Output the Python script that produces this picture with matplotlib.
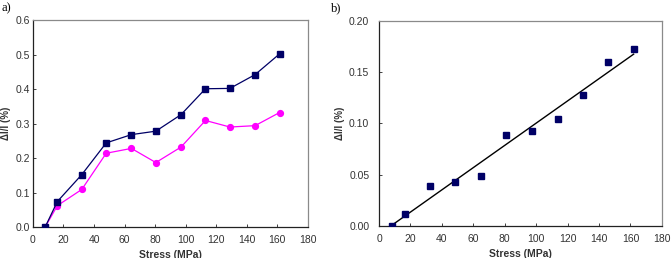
import numpy as np
import matplotlib.pyplot as plt

# panel a
stress_a = [8, 16, 32, 48, 64.5, 80.5, 97, 113, 129, 145.5, 161.5]
strain_sq = [0.0, 0.074, 0.152, 0.244, 0.268, 0.278, 0.326, 0.401, 0.402, 0.442, 0.502]
strain_circ = [0.0, 0.062, 0.109, 0.214, 0.228, 0.187, 0.232, 0.309, 0.290, 0.294, 0.332]

# panel b
stress_b = [8.5, 16.5, 32.5, 48.5, 65, 81, 97.5, 114, 130, 146, 162]
strain_b = [0.0, 0.0115, 0.0393, 0.0429, 0.0484, 0.089, 0.0922, 0.1045, 0.128, 0.160, 0.1725]

xticks = [0, 20, 40, 60, 80, 100, 120, 140, 160, 180]

plt.rcParams["font.family"] = ["Liberation Sans", "DejaVu Sans"]

NAVY = "#000066"
MAGENTA = "#ff00ff"
FRAME = "#8a8a8a"
TXT = "#333333"


def style_axes(ax, ypad):
    for s in ax.spines.values():
        s.set_color(FRAME)
        s.set_linewidth(0.9)
    ax.spines["bottom"].set_color("#222222")
    ax.spines["left"].set_color("#222222")
    ax.tick_params(direction="in", length=2.5, width=0.6, labelsize=7.5,
                   colors="#222222", labelcolor=TXT)
    ax.tick_params(axis="x", pad=6)
    ax.tick_params(axis="y", pad=ypad)
    ax.set_xlim(0, 180)
    ax.set_xticks(xticks)
    ax.set_xlabel("Stress (MPa)", fontsize=7.5, fontweight="bold", color=TXT, labelpad=3)
    ax.set_ylabel("\u0394l/l (%)", fontsize=7, fontweight="bold", color=TXT, labelpad=3)


fig = plt.figure(figsize=(6.72, 2.58), dpi=100)

ax1 = fig.add_axes([0.049, 0.120, 0.409, 0.802])
ax1.plot(stress_a, strain_sq, color=NAVY, lw=0.9, marker="s", ms=4.2,
         mfc=NAVY, mec=NAVY, zorder=3)
ax1.plot(stress_a, strain_circ, color=MAGENTA, lw=0.9, marker="o", ms=4.2,
         mfc=MAGENTA, mec=MAGENTA, zorder=2)
ax1.set_ylim(0, 0.6)
ax1.set_yticks(np.arange(0, 0.61, 0.1))
ax1.set_yticklabels([f"{v:.1f}" for v in np.arange(0, 0.61, 0.1)])
style_axes(ax1, 2)

ax2 = fig.add_axes([0.564, 0.124, 0.421, 0.795])
ax2.plot(stress_b, strain_b, ls="none", marker="s", ms=4.2,
         mfc=NAVY, mec=NAVY, zorder=3)
k, b = np.polyfit(stress_b, strain_b, 1)
xf = np.array([stress_b[0], stress_b[-1]])
ax2.plot(xf, k * xf + b, color="black", lw=1.0, zorder=2)
ax2.set_ylim(0, 0.2)
ax2.set_yticks(np.arange(0, 0.201, 0.05))
ax2.set_yticklabels([f"{v:.2f}" for v in np.arange(0, 0.201, 0.05)])
style_axes(ax2, 7)

fig.text(1 / 672, 1 - 8 / 258, "a)", ha="left", va="center", fontsize=9,
         family="Liberation Serif")
fig.text(331 / 672, 1 - 8 / 258, "b)", ha="left", va="center", fontsize=9,
         family="Liberation Serif")

fig.savefig("out.png", dpi=100)
